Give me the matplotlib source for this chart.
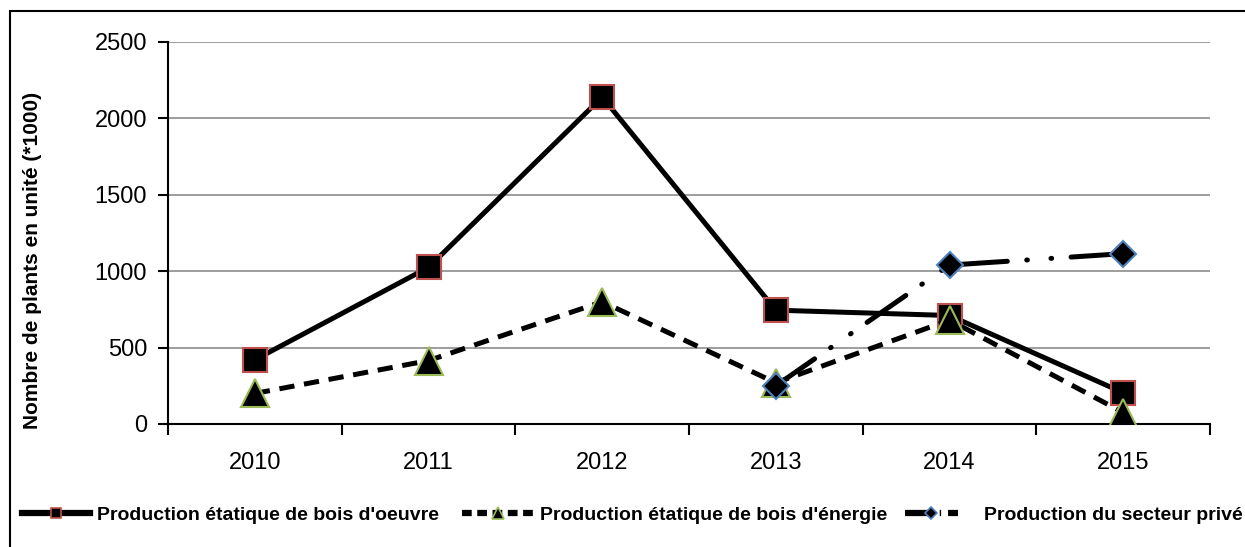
from matplotlib import pyplot as plt
from matplotlib.lines import Line2D
from matplotlib.patches import Rectangle

plt.rcParams['font.family'] = ['Liberation Sans', 'DejaVu Sans']
plt.rcParams['lines.scale_dashes'] = False

years = ['2010', '2011', '2012', '2013', '2014', '2015']
oeuvre = [420, 1025, 2140, 745, 710, 205]
energie = [200, 415, 800, 270, 680, 75]
prive_years = ['2013', '2014', '2015']
prive = [250, 1040, 1115]

labels = ["Production étatique de bois d'oeuvre",
          "Production étatique de bois d'énergie",
          "Production du secteur privé"]

RED = '#C0504D'
GREEN = '#9BBB59'
BLUE = '#4F81BD'

fig = plt.figure(figsize=(12.45, 5.47), dpi=100)
ax = fig.add_axes([168 / 1245, 1 - 424 / 547, (1210 - 168) / 1245, (424 - 42) / 547])

x = list(range(len(years)))
xp = [years.index(y) for y in prive_years]

ax.plot(x, oeuvre, color='black', lw=3.6, marker='s', ms=17,
        mfc='black', mec=RED, mew=1.5, zorder=3)
ax.plot(x, energie, color='black', lw=3.6, ls=(0, (11, 7)), marker='^', ms=20,
        mfc='black', mec=GREEN, mew=1.5, zorder=4)
ax.plot(xp, prive, color='black', lw=3.6, ls=(0, (34, 14, 0.5, 17, 0.5, 14)),
        dash_capstyle='round', marker='D', ms=13.5,
        mfc='black', mec=BLUE, mew=1.5, zorder=5)

ax.set_xlim(-0.5, len(years) - 0.5)
ax.set_ylim(0, 2500)
ax.set_yticks(range(0, 2501, 500))
ax.set_xticks(x)
ax.set_xticklabels(years)
ax.set_xticks([i - 0.5 for i in range(len(years) + 1)], minor=True)
ax.tick_params(axis='x', which='major', length=0, pad=20, labelsize=17)
ax.tick_params(axis='x', which='minor', length=8, width=1.5, direction='out')
ax.tick_params(axis='y', length=7, width=1.5, direction='out', pad=8, labelsize=17)
ax.yaxis.grid(True, color='#8c8c8c', lw=1.2)
ax.set_axisbelow(True)
for side in ['top', 'right']:
  ax.spines[side].set_visible(False)
for side in ['left', 'bottom']:
  ax.spines[side].set_linewidth(1.5)

fig.text(33 / 1245, 1 - 260 / 547, 'Nombre de plants en unité (*1000)',
         rotation=90, ha='center', va='center', fontsize=15, fontweight='bold')

handles = [
    Line2D([0], [0], color='black', lw=4.5, marker='s', ms=7,
           mfc='black', mec=RED, mew=1.2),
    Line2D([0], [0], color='black', lw=4.5, ls=(0, (7, 4)), marker='^', ms=8,
           mfc='black', mec=GREEN, mew=1.2),
    Line2D([0], [0], color='black', lw=4.5, ls=(0, (20, 5, 1, 5)),
           marker='D', ms=6, mfc='black', mec=BLUE, mew=1.2),
]

# one legend per entry, so each sits where the reference puts it
leg_x = [22, 462, 905]
leg_len = [3.5, 3.75, 2.7]
leg_pad = [0.36, 0.26, 1.34]
for h, lab, lx, hl, tp in zip(handles, labels, leg_x, leg_len, leg_pad):
  fig.legend([h], [lab], loc='center left',
             bbox_to_anchor=(lx / 1245, 1 - 515 / 547),
             frameon=False, borderpad=0, borderaxespad=0,
             handlelength=hl, handletextpad=tp,
             prop={'weight': 'bold', 'size': 14})

fig.patches.append(Rectangle((10 / 1245, -0.1), 1.2, 1 - 11 / 547 + 0.1,
                             transform=fig.transFigure, fill=False,
                             edgecolor='black', lw=1.5))

plt.savefig('out.png', dpi=100)
